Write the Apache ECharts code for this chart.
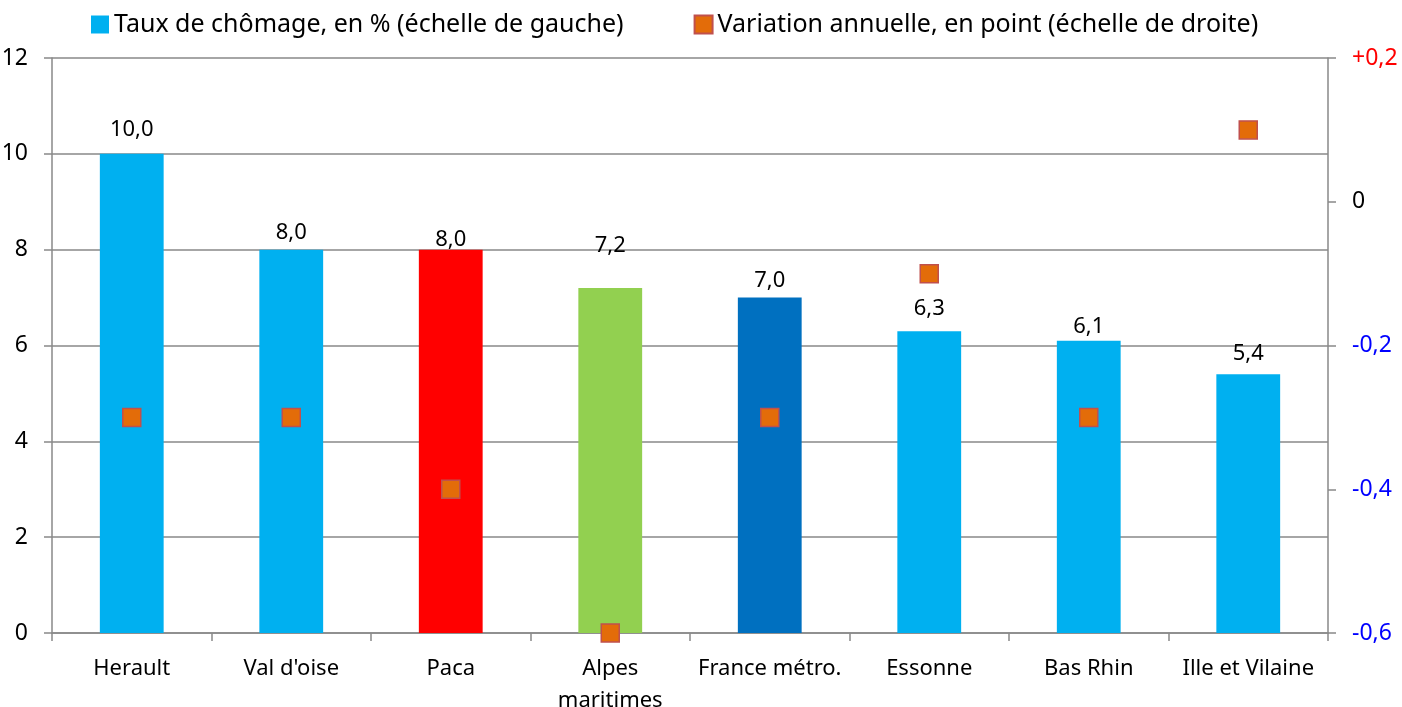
<!DOCTYPE html>
<html>
<head>
<meta charset="utf-8">
<script src="https://cdn.jsdelivr.net/npm/echarts@6/dist/echarts.min.js"></script>
<style>
  html, body { margin: 0; padding: 0; background: #fff; }
  #chart { width: 1402px; height: 707px; }
</style>
</head>
<body>
<div id="chart"></div>
<script>
var categories = ['Herault', "Val d'oise", 'Paca', 'Alpes\nmaritimes', 'France métro.', 'Essonne', 'Bas Rhin', 'Ille et Vilaine'];
var tauxChomage = [10.0, 8.0, 8.0, 7.2, 7.0, 6.3, 6.1, 5.4];
var variationAnnuelle = [-0.3, -0.3, -0.4, -0.6, -0.3, -0.1, -0.3, 0.1];

// couleurs des barres et écart des étiquettes (placées à la main dans l'original)
var barColors = ['#00B0F0', '#00B0F0', '#FF0000', '#92D050', '#0070C0', '#00B0F0', '#00B0F0', '#00B0F0'];
var labelGap = [13, 6, -1, 31, 6, 11, 3, 10];

var gris = '#898989';
var police = 'Noto Sans';

function virgule(v, d) {
    return v.toFixed(d).replace('.', ',');
}

var chart = echarts.init(document.getElementById('chart'));

var option = {
    backgroundColor: '#ffffff',
    animation: false,
    textStyle: { fontFamily: police },
    legend: {
        top: 7,
        left: 86,
        itemWidth: 18,
        itemHeight: 18,
        itemGap: 70,
        textStyle: { fontSize: 25, color: '#000', fontFamily: police },
        data: [
            { name: 'Taux de chômage, en % (échelle de gauche)', icon: 'rect' },
            { name: 'Variation annuelle, en point (échelle de droite)', icon: 'rect' }
        ]
    },
    grid: {
        left: 52,
        right: 74,
        top: 58,
        bottom: 74,
        containLabel: false,
        outerBoundsMode: 'none'
    },
    xAxis: {
        type: 'category',
        data: categories,
        axisLine: { lineStyle: { color: gris, width: 1.5 } },
        axisTick: { show: true, interval: 0, length: 8, lineStyle: { color: gris, width: 1.5 } },
        axisLabel: {
            interval: 0,
            color: '#000',
            fontSize: 22,
            margin: 20,
            lineHeight: 32,
            fontFamily: police
        }
    },
    yAxis: [{
        type: 'value',
        min: 0,
        max: 12,
        interval: 2,
        axisLine: { show: true, lineStyle: { color: gris, width: 1.5 } },
        axisTick: { show: true, length: 8, lineStyle: { color: gris, width: 1.5 } },
        splitLine: { lineStyle: { color: gris, width: 1.5 } },
        axisLabel: {
            color: '#000',
            fontSize: 23,
            margin: 24,
            fontFamily: police
        }
    }, {
        type: 'value',
        min: -0.6,
        max: 0.2,
        interval: 0.2,
        position: 'right',
        axisLine: { show: true, lineStyle: { color: gris, width: 1.5 } },
        axisTick: { show: true, length: 8, lineStyle: { color: gris, width: 1.5 } },
        splitLine: { show: false },
        axisLabel: {
            fontSize: 23,
            margin: 24,
            fontFamily: police,
            formatter: function (v) {
                var r = Math.round(v * 10) / 10;
                if (r === 0) return '0';
                return (r > 0 ? '+' : '') + virgule(r, 1);
            },
            color: function (v) {
                var r = Math.round(Number(v) * 10) / 10;
                if (r > 0) return '#FF0000';
                if (r < 0) return '#0000FF';
                return '#000000';
            }
        }
    }],
    series: [{
        name: 'Taux de chômage, en % (échelle de gauche)',
        type: 'bar',
        barWidth: '40%',
        itemStyle: { color: '#00B0F0' },
        data: tauxChomage.map(function (v, i) {
            return {
                value: v,
                itemStyle: { color: barColors[i] },
                label: { distance: labelGap[i] }
            };
        }),
        label: {
            show: true,
            position: 'top',
            color: '#000',
            fontSize: 22,
            fontFamily: police,
            formatter: function (p) { return virgule(p.value, 1); }
        }
    }, {
        name: 'Variation annuelle, en point (échelle de droite)',
        type: 'scatter',
        yAxisIndex: 1,
        symbol: 'rect',
        symbolSize: 18,
        itemStyle: {
            color: '#E36C09',
            borderColor: '#C0504D',
            borderWidth: 1.5,
            opacity: 1
        },
        z: 5,
        data: variationAnnuelle
    }]
};

chart.setOption(option);
</script>
</body>
</html>
